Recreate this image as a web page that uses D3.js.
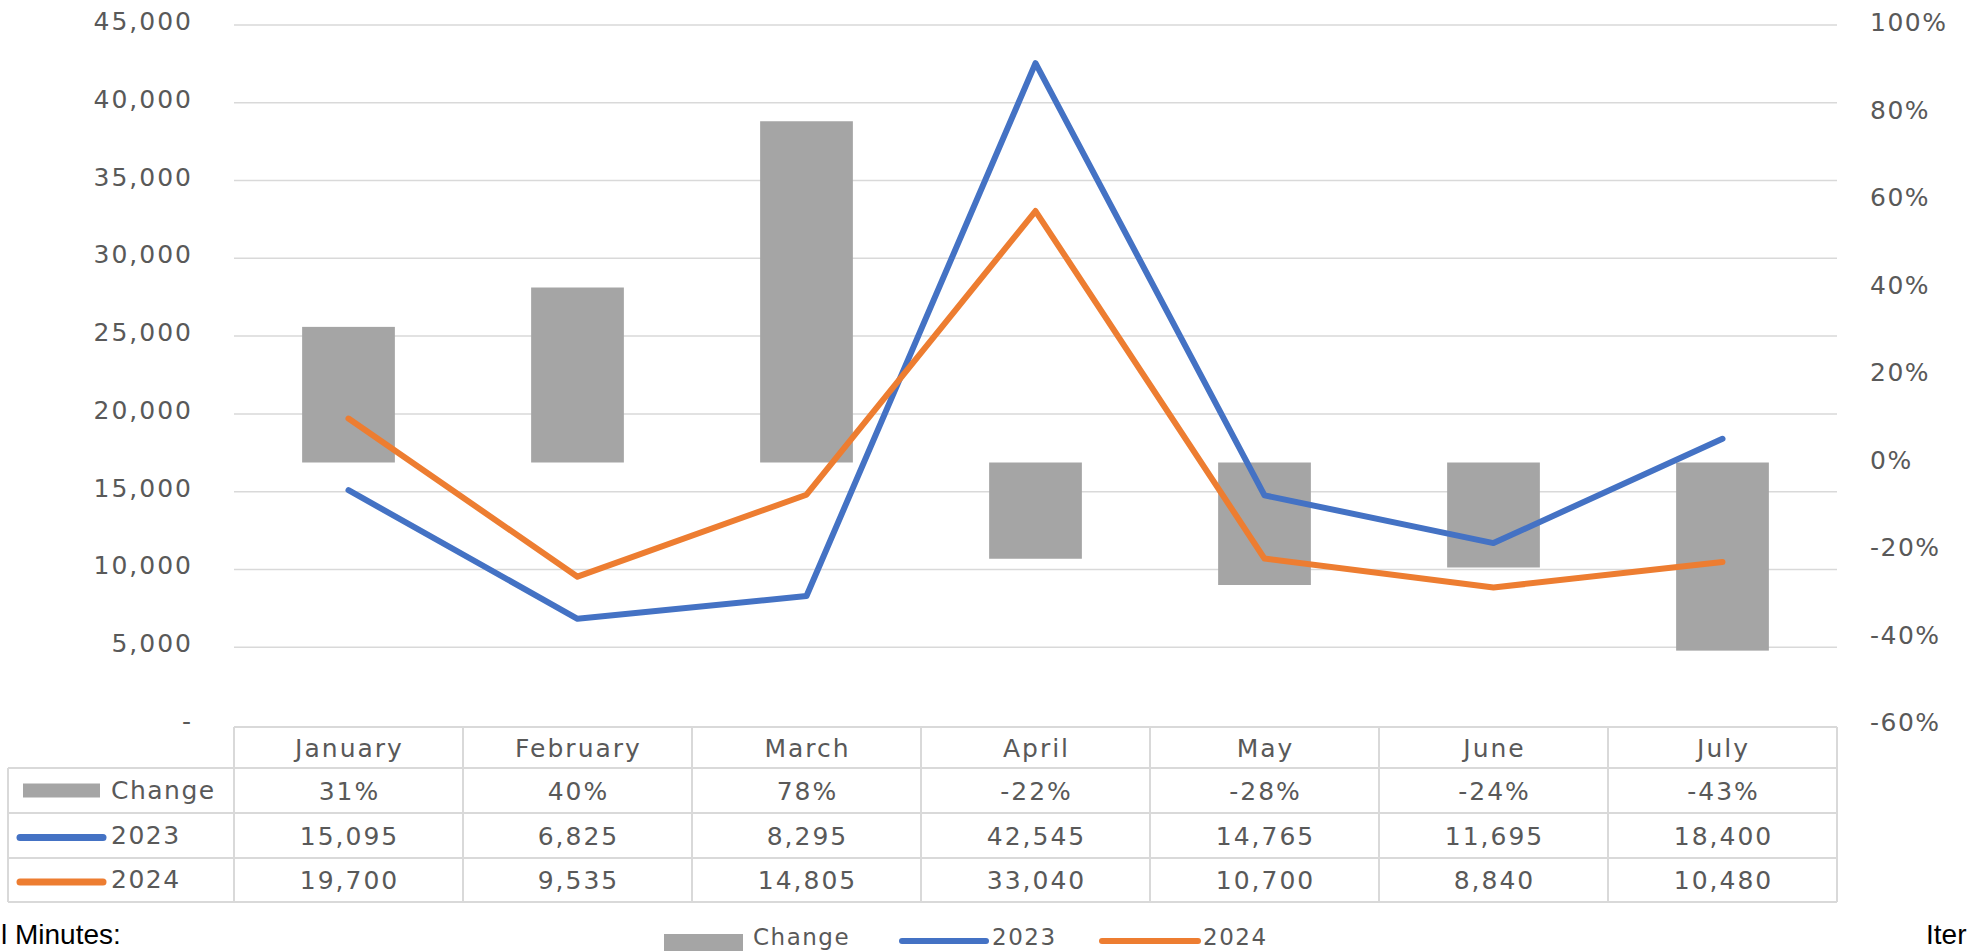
<!DOCTYPE html>
<html lang="en">
<head>
  <meta charset="UTF-8">
  <title>Change 2023 vs 2024</title>
  <script src="https://d3js.org/d3.v7.min.js"></script>
  <style>
    body { margin: 0; background: #fff; }
    svg text { font-family: "DejaVu Sans", sans-serif; }
  </style>
</head>
<body>
<svg id="chart" width="1967" height="951"></svg>
<script>
  // données
  const months = ["January", "February", "March", "April", "May", "June", "July"];
  const change = [0.31, 0.40, 0.78, -0.22, -0.28, -0.24, -0.43];
  const v2023 = [15095, 6825, 8295, 42545, 14765, 11695, 18400];
  const v2024 = [19700, 9535, 14805, 33040, 10700, 8840, 10480];
  const leftTicks = [0, 5000, 10000, 15000, 20000, 25000, 30000, 35000, 40000, 45000];
  const rightTicks = [-0.6, -0.4, -0.2, 0, 0.2, 0.4, 0.6, 0.8, 1.0];

  const blue = "#4472C4", orange = "#ED7D31", grey = "#A5A5A5";
  const textCol = "#595959", gridCol = "#D9D9D9";

  const svg = d3.select("#chart");
  const plot = {left: 234, right: 1837, top: 25, bottom: 725};

  const x = d3.scaleBand().domain(months).range([plot.left, plot.right]);
  const yL = d3.scaleLinear().domain([0, 45000]).range([plot.bottom, plot.top]);
  const yR = d3.scaleLinear().domain([-0.6, 1.0]).range([plot.bottom, plot.top]);

  // grille
  svg.append("g").selectAll("line").data(leftTicks.filter(d => d > 0)).join("line")
    .attr("x1", plot.left).attr("x2", plot.right)
    .attr("y1", d => yL(d)).attr("y2", d => yL(d))
    .attr("stroke", gridCol).attr("stroke-width", 1.5);

  // axe gauche
  const fmt = d3.format(",");
  svg.append("g").selectAll("text").data(leftTicks).join("text")
    .attr("x", 193).attr("y", d => yL(d) + 5)
    .attr("text-anchor", "end")
    .attr("font-size", 25).attr("letter-spacing", 2).attr("fill", textCol)
    .text(d => d === 0 ? "-" : fmt(d));

  // axe droit
  svg.append("g").selectAll("text").data(rightTicks).join("text")
    .attr("x", 1870).attr("y", d => yR(d) + 6)
    .attr("font-size", 25).attr("letter-spacing", 1.5).attr("fill", textCol)
    .text(d => Math.round(d * 100) + "%");

  // barres (axe droit)
  const bw = x.bandwidth() * 0.405;
  svg.append("g").selectAll("rect").data(months).join("rect")
    .attr("x", (d) => x(d) + (x.bandwidth() - bw) / 2)
    .attr("width", bw)
    .attr("y", (d, i) => Math.min(yR(change[i]), yR(0)))
    .attr("height", (d, i) => Math.abs(yR(change[i]) - yR(0)))
    .attr("fill", grey);

  // lignes (axe gauche)
  const line = d3.line()
    .x((d, i) => x(months[i]) + x.bandwidth() / 2)
    .y(d => yL(d));

  [[v2023, blue], [v2024, orange]].forEach(([vals, col]) => {
    svg.append("path").datum(vals)
      .attr("d", line)
      .attr("fill", "none").attr("stroke", col).attr("stroke-width", 6)
      .attr("stroke-linejoin", "round").attr("stroke-linecap", "round");
  });

  // tableau de données
  const rowY = [727, 768, 813, 858, 902];
  const tableLeft = 8;
  const tbl = svg.append("g");
  tbl.append("line").attr("x1", plot.left).attr("x2", plot.right)
    .attr("y1", rowY[0]).attr("y2", rowY[0])
    .attr("stroke", gridCol).attr("stroke-width", 2);
  rowY.slice(1).forEach(yy => {
    tbl.append("line").attr("x1", tableLeft).attr("x2", plot.right)
      .attr("y1", yy).attr("y2", yy)
      .attr("stroke", gridCol).attr("stroke-width", 2);
  });
  months.map(m => x(m)).concat([plot.right]).forEach(xx => {
    tbl.append("line").attr("x1", xx).attr("x2", xx)
      .attr("y1", rowY[0]).attr("y2", rowY[4])
      .attr("stroke", gridCol).attr("stroke-width", 2);
  });
  tbl.append("line").attr("x1", tableLeft).attr("x2", tableLeft)
    .attr("y1", rowY[1]).attr("y2", rowY[4])
    .attr("stroke", gridCol).attr("stroke-width", 2);

  const pctFmt = d => Math.round(d * 100) + "%";
  const rows = [
    {cells: months, y: (rowY[0] + rowY[1]) / 2},
    {cells: change.map(pctFmt), y: (rowY[1] + rowY[2]) / 2},
    {cells: v2023.map(fmt), y: (rowY[2] + rowY[3]) / 2},
    {cells: v2024.map(fmt), y: (rowY[3] + rowY[4]) / 2}
  ];
  rows.forEach(r => {
    tbl.append("g").selectAll("text").data(r.cells).join("text")
      .attr("x", (d, i) => x(months[i]) + x.bandwidth() / 2 + 1)
      .attr("y", r.y + 9)
      .attr("text-anchor", "middle")
      .attr("font-size", 25).attr("letter-spacing", 2).attr("fill", textCol)
      .text(d => d);
  });

  // légendes dans le tableau
  const keys = [
    {name: "Change", type: "bar", col: grey},
    {name: "2023", type: "line", col: blue},
    {name: "2024", type: "line", col: orange}
  ];
  keys.forEach((k, i) => {
    const cy = (rowY[i + 1] + rowY[i + 2]) / 2;
    if (k.type === "bar") {
      tbl.append("rect").attr("x", 23).attr("y", cy - 7).attr("width", 77).attr("height", 14).attr("fill", k.col);
    } else {
      tbl.append("line").attr("x1", 20).attr("x2", 103).attr("y1", cy + 2).attr("y2", cy + 2)
        .attr("stroke", k.col).attr("stroke-width", 7).attr("stroke-linecap", "round");
    }
    tbl.append("text").attr("x", 111).attr("y", cy + 8)
      .attr("font-size", 25).attr("letter-spacing", 1.5).attr("fill", textCol)
      .text(k.name);
  });

  // légende du bas
  const leg = svg.append("g");
  leg.append("rect").attr("x", 664).attr("y", 934).attr("width", 79).attr("height", 17).attr("fill", grey);
  leg.append("text").attr("x", 753).attr("y", 945).attr("font-size", 23).attr("letter-spacing", 1.5).attr("fill", textCol).text("Change");
  leg.append("line").attr("x1", 902).attr("x2", 986).attr("y1", 941).attr("y2", 941)
    .attr("stroke", blue).attr("stroke-width", 6).attr("stroke-linecap", "round");
  leg.append("text").attr("x", 992).attr("y", 945).attr("font-size", 23).attr("letter-spacing", 1.5).attr("fill", textCol).text("2023");
  leg.append("line").attr("x1", 1102).attr("x2", 1198).attr("y1", 941).attr("y2", 941)
    .attr("stroke", orange).attr("stroke-width", 6).attr("stroke-linecap", "round");
  leg.append("text").attr("x", 1203).attr("y", 945).attr("font-size", 23).attr("letter-spacing", 1.5).attr("fill", textCol).text("2024");

  // textes coupés sur les bords
  svg.append("text").attr("x", 1).attr("y", 944)
    .style("font-family", "'Liberation Sans', sans-serif").attr("font-size", 28).attr("fill", "#000")
    .text("l Minutes:");
  svg.append("text").attr("x", 1926).attr("y", 944)
    .style("font-family", "'Liberation Sans', sans-serif").attr("font-size", 28).attr("fill", "#000")
    .text("Iter");
</script>
</body>
</html>
